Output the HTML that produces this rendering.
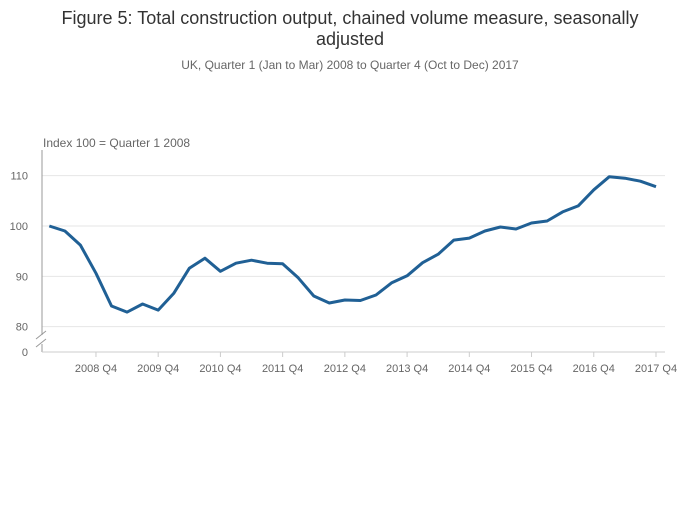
<!DOCTYPE html>
<html><head><meta charset="utf-8"><style>
body{margin:0;background:#fff;font-family:"Liberation Sans",sans-serif;}
svg text{font-family:"Liberation Sans",sans-serif;}
</style></head><body>
<svg id="chart" width="700" height="502" viewBox="0 0 700 502">
<text x="350" y="24" text-anchor="middle" font-size="18" fill="#333">Figure 5: Total construction output, chained volume measure, seasonally</text>
<text x="350" y="45" text-anchor="middle" font-size="18" fill="#333">adjusted</text>
<text x="350" y="69" text-anchor="middle" font-size="12" fill="#666">UK, Quarter 1 (Jan to Mar) 2008 to Quarter 4 (Oct to Dec) 2017</text>
<text x="43" y="147" font-size="12" fill="#666">Index 100 = Quarter 1 2008</text>
<g id="grid"></g>
<line x1="42" y1="150" x2="42" y2="335" stroke="#999" stroke-width="1"/>
<line x1="42" y1="344" x2="42" y2="352" stroke="#999" stroke-width="1"/>
<g stroke="#999"><line x1="36" y1="339" x2="46" y2="331"/><line x1="36" y1="347" x2="46" y2="339"/></g>
<line x1="42" y1="352" x2="665" y2="352" stroke="#ccc"/>
<text x="28" y="356" text-anchor="end" font-size="11" fill="#666">0</text>
<g id="xt"></g>
<path id="line" fill="none" stroke="#206095" stroke-width="3" stroke-linejoin="round"/>
</svg>
<script>
const values=[100,99,96.2,90.6,84.1,82.9,84.5,83.3,86.6,91.6,93.6,91.0,92.6,93.2,92.6,92.5,89.7,86.1,84.7,85.3,85.2,86.3,88.7,90.1,92.7,94.4,97.2,97.6,99.0,99.8,99.4,100.6,101.0,102.8,104.0,107.2,109.8,109.5,108.9,107.8];
const yTicks=[80,90,100,110];
const xTickLabels=["2008 Q4","2009 Q4","2010 Q4","2011 Q4","2012 Q4","2013 Q4","2014 Q4","2015 Q4","2016 Q4","2017 Q4"];
const xTickIndex=[3,7,11,15,19,23,27,31,35,39];
const NS="http://www.w3.org/2000/svg";
const x=i=>49.3+i*15.556, y=v=>226-(v-100)*5.033;
const g=document.getElementById('grid');
yTicks.forEach(t=>{
 const l=document.createElementNS(NS,'line');
 
 
 l.setAttribute('x1',42);l.setAttribute('x2',665);l.setAttribute('y1',y(t));l.setAttribute('y2',y(t));l.setAttribute('stroke','#e6e6e6');
 g.appendChild(l);
 const tx=document.createElementNS(NS,'text');
 
 
 tx.setAttribute('x',28);tx.setAttribute('y',y(t)+4);tx.setAttribute('text-anchor','end');tx.setAttribute('font-size','11');tx.setAttribute('fill','#666');tx.textContent=t;
 g.appendChild(tx);
});
const xt=document.getElementById('xt');
xTickLabels.forEach((lab,k)=>{
 const px=x(xTickIndex[k]);
 const l=document.createElementNS(NS,'line');
 
 
 l.setAttribute('x1',px);l.setAttribute('x2',px);l.setAttribute('y1',352);l.setAttribute('y2',357);l.setAttribute('stroke','#ccc');
 xt.appendChild(l);
 const tx=document.createElementNS(NS,'text');
 
 
 tx.setAttribute('x',px);tx.setAttribute('y',372);tx.setAttribute('text-anchor','middle');tx.setAttribute('font-size','11');tx.setAttribute('fill','#666');tx.textContent=lab;
 xt.appendChild(tx);
});
document.getElementById('line').setAttribute('d',values.map((v,i)=>(i?'L':'M')+x(i).toFixed(1)+','+y(v).toFixed(1)).join(''));
</script>
</body></html>
